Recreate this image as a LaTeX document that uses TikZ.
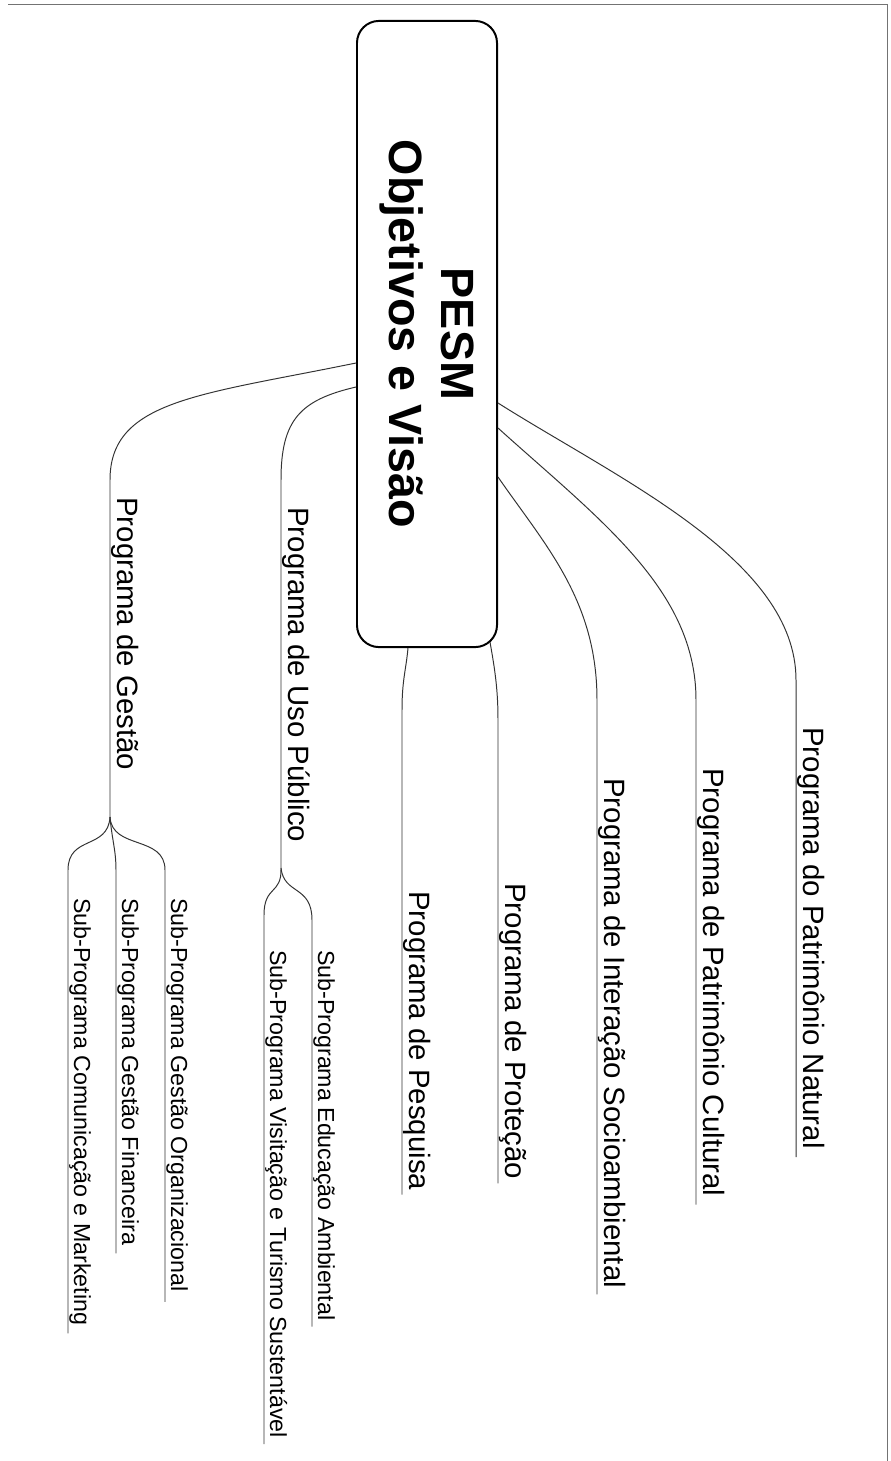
\documentclass[tikz,border=0pt]{standalone}
\usepackage{fontspec}
\setmainfont{Liberation Sans}
\usetikzlibrary{calc}
\begin{document}
\begin{tikzpicture}[x=0.025cm,y=-0.025cm,
  conn/.style={draw=black!80, line width=0.7pt},
  prog/.style={rotate=-90, anchor=base west, inner sep=0pt, font=\fontsize{20.9}{24}\selectfont},
  subprog/.style={rotate=-90, anchor=base west, inner sep=0pt, font=\fontsize{16.5}{19}\selectfont},
  centre/.style={rotate=-90, draw, line width=1.4pt, rounded corners=0.55cm,
    minimum width=15.65cm, minimum height=3.5cm, align=center, inner sep=0pt,
    font=\bfseries\fontsize{33.2}{37.6}\selectfont},
  frame/.style={draw=black!55, line width=0.5pt}]
\useasboundingbox (0,0) rectangle (890,1461);
\draw[frame] (8,4) -- (887,4) -- (887,1461);

\node[centre] (main) at (427,334) {PESM\\Objetivos e Visão};

% attach points on the central box
\coordinate (aGes) at ($(main.south)+(0,29)$);
\coordinate (aUso) at ($(main.south)+(0,53)$);
\coordinate (aNat) at ($(main.north)+(0,69)$);
\coordinate (aCul) at ($(main.north)+(0,94)$);
\coordinate (aSoc) at ($(main.north)+(0,143)$);
\coordinate (aPes) at ($(main.east)+(-19,0)$);
\coordinate (aPro) at ($(main.east)+(63,-6)$);
\coordinate (bUso) at (281,868);
\coordinate (bGes) at (110,817);

% labels
\node[prog] (nat) at (803,727) {Programa do Patrimônio Natural};
\node[prog] (cul) at (703,768) {Programa de Patrimônio Cultural};
\node[prog] (soc) at (604,778) {Programa de Interação Socioambiental};
\node[prog] (pro) at (505,883) {Programa de Proteção};
\node[prog] (pes) at (409,891) {Programa de Pesquisa};
\node[prog] (uso) at (288,507) {Programa de Uso Público};
\node[prog] (ges) at (117,497) {Programa de Gestão};
\node[subprog] (amb) at (318,950) {Sub-Programa Educação Ambiental};
\node[subprog] (vis) at (270,950) {Sub-Programa Visitação e Turismo Sustentável};
\node[subprog] (org) at (171,898) {Sub-Programa Gestão Organizacional};
\node[subprog] (fin) at (122,898) {Sub-Programa Gestão Financeira};
\node[subprog] (mkt) at (74,898) {Sub-Programa Comunicação e Marketing};

% connectors
\draw[conn] (aNat) .. controls (620,480) and (796,560) .. (796,680) -- ($(nat.base east)+(-7,8)$);
\draw[conn] (aCul) .. controls (600,520) and (696,590) .. (696,700) -- ($(cul.base east)+(-7,8)$);
\draw[conn] (aSoc) .. controls (545,545) and (597,600) .. (597,700) -- ($(soc.base east)+(-7,6)$);
\draw[conn] (aPro) .. controls (495,670) and (498,690) .. (498,720) -- ($(pro.base east)+(-7,4)$);
\draw[conn] (aPes) .. controls (406,670) and (402,680) .. (402,710) -- ($(pes.base east)+(-7,4)$);
\draw[conn] (aUso) .. controls (300,400) and (281,420) .. (281,480) -- (bUso);
\draw[conn] (bUso) .. controls (282,895) and (264,885) .. (264,915) -- ($(vis.base east)+(-6,6)$);
\draw[conn] (bUso) .. controls (284,895) and (312,885) .. (312,920) -- ($(amb.base east)+(-6,6)$);
\draw[conn] (aGes) .. controls (200,395) and (110,400) .. (110,480) -- (bGes);
\draw[conn] (bGes) .. controls (112,850) and (165,835) .. (165,870) -- ($(org.base east)+(-6,10)$);
\draw[conn] (bGes) .. controls (112,840) and (116,850) .. (116,870) -- ($(fin.base east)+(-6,8)$);
\draw[conn] (bGes) .. controls (108,850) and (68,835) .. (68,870) -- ($(mkt.base east)+(-6,8)$);
\end{tikzpicture}
\end{document}
